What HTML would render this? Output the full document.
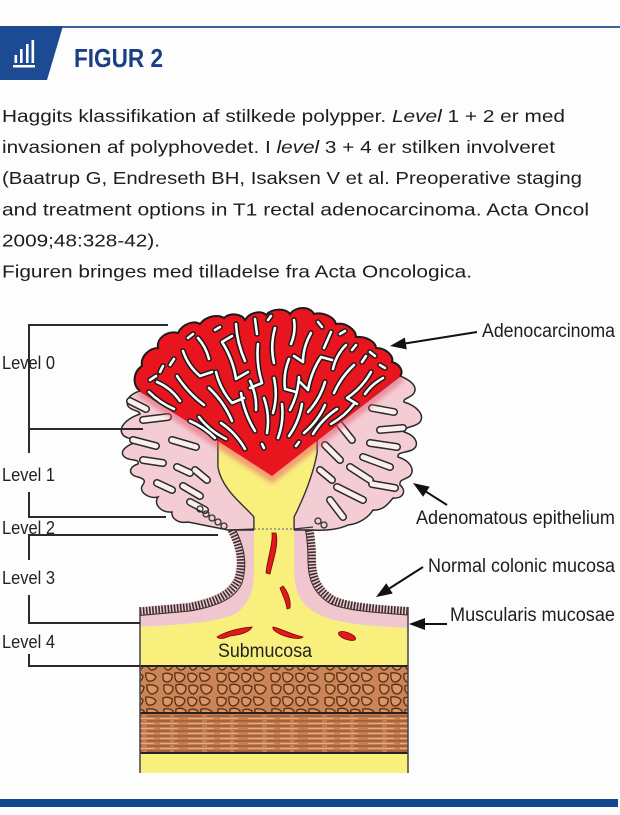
<!DOCTYPE html>
<html><head><meta charset="utf-8"><style>
html,body{margin:0;padding:0;background:#fdfdfd;}
svg{display:block;}
text{font-family:"Liberation Sans",sans-serif;}
</style></head><body>
<svg width="620" height="815" viewBox="0 0 620 815" xmlns="http://www.w3.org/2000/svg">
<defs>
<pattern id="cells" width="54" height="24" patternUnits="userSpaceOnUse">
<rect width="54" height="24" fill="#c98458"/>
<g fill="#d4966a" stroke="#5e2c0c" stroke-width="1.3">
<path d="M1,2 Q6,0 10,3 Q11,8 6,10 Q1,10 1,6 Z"/>
<path d="M13,1 Q20,0 23,4 Q22,10 16,10 Q12,8 13,1 Z"/>
<path d="M26,2 Q31,0 35,4 Q34,10 29,10 Q25,8 26,2 Z"/>
<path d="M38,1 Q46,1 48,5 Q46,10 40,9 Q37,6 38,1 Z"/>
<path d="M2,13 Q8,12 11,15 Q11,21 6,22 Q1,21 2,13 Z"/>
<path d="M14,13 Q21,11 24,15 Q24,22 18,22 Q13,20 14,13 Z"/>
<path d="M27,14 Q32,12 36,15 Q35,22 30,22 Q26,19 27,14 Z"/>
<path d="M39,13 Q47,12 50,16 Q49,22 43,22 Q38,19 39,13 Z"/>
</g>
</pattern>
<pattern id="stri" width="60" height="5" patternUnits="userSpaceOnUse">
<rect width="60" height="5" fill="#c47e52"/>
<path d="M0,1 H22 M27,1 H50 M54,1 H60" stroke="#8a4520" stroke-width="0.9"/>
<path d="M8,3.4 H34 M40,3.4 H58" stroke="#e2ac84" stroke-width="1.1"/>
</pattern>
<filter id="bl"><feGaussianBlur stdDeviation="2.5"/></filter>
<path id="ch" d="M180,401Q171,388 157,382 M226,439Q210,431 199,417 M245,449Q236,433 221,423 M204,405Q188,393 177,376 M232,421Q224,402 209,388 M200,376Q188,366 183,351 M232,403Q220,389 216,372 M209,359Q206,347 198,338 M255,431Q244,413 241,393 M236,379Q233,359 222,342 M256,410Q257,395 250,381 M245,361Q237,343 236,324 M267,433Q270,415 264,398 M262,383Q256,364 258,344 M257,334L255,319 M273,413Q278,396 274,378 M274,363Q270,346 275,328 M278,438Q284,422 282,404 M285,389Q283,374 289,359 M291,344Q296,332 294,320 M290,410Q298,395 299,377 M303,362Q303,347 311,333 M289,436Q299,422 302,404 M308,390Q311,372 321,357 M324,348L331,332 M308,412Q320,399 325,382 M333,369Q336,355 346,345 M304,433Q318,421 325,405 M334,393Q341,377 354,365 M313,434Q322,419 337,409 M347,398Q362,388 371,372 M331,424Q345,416 354,404 M365,394Q372,384 383,378 M215,438Q204,427 190,421 M174,409Q160,403 149,392 M232,403L244,398 M262,383L250,388 M285,389L296,392 M308,390L300,382 M236,379L248,372 M222,342L232,336 M321,357L332,360 M200,376L212,372 M303,362L294,356 M347,398L357,404 M170,365L174,359 M215,330L220,327 M340,334L345,331 M362,362L366,356 M160,372L163,366 M370,352L375,356 M150,380L156,376 M188,338L193,334 M268,320L271,316 M318,322L322,327 M352,350L356,345 M380,365L385,368 M264,448L262,444 M296,446L299,442"/>
<path id="sl" d="M130,401L146,409 M143,420L168,417 M133,440L156,446 M172,440L196,447 M143,460L163,463 M177,467L190,473 M157,483L172,490 M183,486L200,496 M190,502L205,510 M195,470L207,480 M372,408L394,412 M380,430L403,428 M370,443L397,447 M363,457L390,467 M350,467L370,480 M337,487L363,500 M372,484L395,488 M330,500L343,517 M340,425L352,440 M325,445L340,460 M320,470L332,480"/>
</defs>

<!-- Header -->
<line x1="0" y1="27" x2="620" y2="27" stroke="#41619e" stroke-width="2"/>
<polygon points="0,26 63,26 47,80 0,80" fill="#1c4b93"/>
<g fill="#fff">
<rect x="13" y="65" width="22" height="2.5"/>
<rect x="14.5" y="55" width="2.6" height="8"/>
<rect x="20" y="49" width="2.6" height="14"/>
<rect x="26" y="44" width="2.6" height="19"/>
<rect x="31.5" y="40" width="2.6" height="23"/>
</g>
<text x="74" y="67" font-size="26" font-weight="bold" fill="#1b3f84" textLength="89" lengthAdjust="spacingAndGlyphs">FIGUR 2</text>

<!-- Paragraph -->
<g font-size="17.5" fill="#1d1d1d">
<text x="2" y="122" textLength="563" lengthAdjust="spacingAndGlyphs">Haggits klassifikation af stilkede polypper. <tspan font-style="italic">Level</tspan> 1 + 2 er med</text>
<text x="2" y="153" textLength="553" lengthAdjust="spacingAndGlyphs">invasionen af polyphovedet. I <tspan font-style="italic">level</tspan> 3 + 4 er stilken involveret</text>
<text x="2" y="184" textLength="580" lengthAdjust="spacingAndGlyphs">(Baatrup G, Endreseth BH, Isaksen V et al. Preoperative staging</text>
<text x="2" y="215.5" textLength="587" lengthAdjust="spacingAndGlyphs">and treatment options in T1 rectal adenocarcinoma. Acta Oncol</text>
<text x="2" y="246.5" textLength="158" lengthAdjust="spacingAndGlyphs">2009;48:328-42).</text>
<text x="2" y="277.5" textLength="470" lengthAdjust="spacingAndGlyphs">Figuren bringes med tilladelse fra Acta Oncologica.</text>
</g>

<!-- Base layers -->
<rect x="140" y="666" width="268" height="47" fill="url(#cells)"/>
<rect x="140" y="713" width="268" height="40" fill="url(#stri)"/>
<rect x="140" y="753" width="268" height="20" fill="#f8ef7c"/>
<g stroke="#222" stroke-width="2">
<line x1="140" y1="666" x2="408" y2="666"/>
<line x1="140" y1="713" x2="408" y2="713"/>
<line x1="140" y1="753" x2="408" y2="753"/>
</g>

<!-- Mucosa pink stalk/base -->
<path d="M226,527 C236,545 240,562 234,578 C226,594 207,599 186,603 L140,607 L140,627 C180,625 225,622 238,612 C250,602 254,590 254,573 L254,527 Z" fill="#f0c7cf"/>
<path d="M294,527 L294,573 C295,595 302,610 330,619 C355,626 385,627 408,628 L408,607 C380,606 350,604 336,597 C320,589 316,575 316,560 C316,548 315,537 313,527 Z" fill="#f0c7cf"/>
<!-- combs -->
<g fill="none" stroke="#3a2f30">
<path d="M230,527 C240,545 244,562 238,580 C230,597 210,603 190,607 L140,611.5" stroke-width="8" stroke-dasharray="1.6 1.5"/>
<path d="M309,527 C311,537 312,548 312,560 C312,577 317,590 333,600 C348,607 380,609 408,611" stroke-width="8" stroke-dasharray="1.6 1.5"/>
<path d="M234,527 C244,545 248,563 242,583 C234,601 212,607 190,611 L140,615.5" stroke-width="1"/>
<path d="M305,527 C307,537 308,548 308,561 C308,580 314,594 331,604 C348,611 380,613 408,615" stroke-width="1"/>
</g>

<!-- Pink lobes -->
<path d="M140,391 C130,394 125,400 128,406 C131,411 139,410 140,414 C128,418 117,427 123,435 C127,440 137,438 137,442 C124,446 118,453 126,458 C132,461 140,459 138,464 C128,467 128,475 138,477 C145,479 146,481 142,486 C139,493 150,499 158,497 C153,504 161,513 172,512 C171,518 178,524 188,522 L228,530 L254,530 L254,517 C244,505 222,490 218,467 L218,440 Z" fill="#f3cdd3" stroke="#2a2a2a" stroke-width="1.5"/>
<path d="M400,376 C410,380 418,386 414,393 C411,398 403,398 404,402 C417,406 425,415 420,422 C415,428 403,426 404,432 C417,436 420,446 412,450 C405,453 397,452 398,457 C411,461 415,470 410,476 C405,480 399,479 400,485 C407,491 403,499 393,498 C389,503 383,511 373,510 C369,517 359,524 348,525 C340,529 326,531 313,530 L294,530 L294,517 C300,505 312,480 317,453 L317,440 Z" fill="#f3cdd3" stroke="#2a2a2a" stroke-width="1.5"/>
<use href="#sl" fill="none" stroke="#2a2a2a" stroke-width="8" stroke-linecap="round"/>
<use href="#sl" fill="none" stroke="#fbeef0" stroke-width="5" stroke-linecap="round"/>
<g fill="none" stroke="#333" stroke-width="1.3">
<circle cx="200" cy="509" r="3"/><circle cx="206" cy="514" r="3"/><circle cx="212" cy="518" r="3"/><circle cx="218" cy="522" r="3"/><circle cx="224" cy="526" r="3"/>
<circle cx="318" cy="521" r="3"/><circle cx="324" cy="525" r="3"/>
</g>

<!-- Yellow bulb, stalk and submucosa -->
<path d="M254,517 C244,505 222,490 218,467 L218,440 L317,440 L317,453 C312,480 300,505 294,517 L294,573 C295,595 302,610 330,619 C355,626 385,627 408,628 L408,666 L140,666 L140,627 C180,625 225,622 238,612 C250,602 254,590 254,573 Z" fill="#f8ef7c"/>
<path d="M254,530 L254,517 C244,505 222,490 218,467 L218,440 M317,440 L317,453 C312,480 300,505 294,517 L294,530" fill="none" stroke="#333" stroke-width="1.2"/>
<line x1="140" y1="666" x2="408" y2="666" stroke="#222" stroke-width="2"/>
<g stroke="#444" stroke-width="1.5">
<line x1="140" y1="607" x2="140" y2="773"/>
<line x1="408" y1="607" x2="408" y2="773"/>
</g>
<line x1="254" y1="529" x2="294" y2="529" stroke="#8a8a8a" stroke-width="1.5" stroke-dasharray="2 2"/>
<path d="M228,530 L254,529 M294,529 L313,527" stroke="#333" stroke-width="1.2" fill="none"/>

<!-- red blobs -->
<g fill="#e01a1a" stroke="#7a0000" stroke-width="0.8">
<path d="M276,533 C279,545 273,560 270,574 L266,573 C267,560 273,545 272,533 Z"/>
<path d="M283,586 C288,592 291,600 290,608 L287,609 C286,600 282,594 280,588 Z"/>
<path d="M217,637 C225,632 238,628 252,627 C250,632 240,635 230,636 C225,638 220,640 217,637 Z"/>
<path d="M273,627 C280,628 290,634 303,637 C300,640 288,638 280,634 C276,632 272,630 273,627 Z"/>
<ellipse cx="347" cy="636" rx="9" ry="3.5" transform="rotate(20 347 636)"/>
</g>

<!-- Red head -->
<path d="M140,391 L272,476 L400,376" fill="none" stroke="#e8506a" stroke-width="12" opacity="0.5" filter="url(#bl)"/>
<path d="M272,476 L140,391 C132,385 133,372 142,366 C140,356 150,348 158,348 C156,338 168,330 178,333 C182,324 194,320 200,324 C206,316 218,314 224,318 C230,312 242,314 245,320 C250,312 262,310 266,315 C272,308 286,308 290,314 C296,306 310,306 314,314 C322,312 334,316 336,324 C346,322 356,330 356,337 C366,336 376,342 376,348 C386,348 394,356 392,362 C400,364 404,372 400,376 Z" fill="#e8141e"/>
<path d="M140,391 C132,385 133,372 142,366 C140,356 150,348 158,348 C156,338 168,330 178,333 C182,324 194,320 200,324 C206,316 218,314 224,318 C230,312 242,314 245,320 C250,312 262,310 266,315 C272,308 286,308 290,314 C296,306 310,306 314,314 C322,312 334,316 336,324 C346,322 356,330 356,337 C366,336 376,342 376,348 C386,348 394,356 392,362 C400,364 404,372 400,376" fill="none" stroke="#1a1a1a" stroke-width="2"/>
<use href="#ch" fill="none" stroke="#1a1a1a" stroke-width="5.5" stroke-linecap="round"/>
<use href="#ch" fill="none" stroke="#ffffff" stroke-width="2.6" stroke-linecap="round"/>

<!-- Level brackets -->
<g stroke="#2a2a2a" stroke-width="2" fill="none">
<path d="M168,325 H29 V453"/>
<line x1="29" y1="429" x2="143" y2="429"/>
<path d="M29,492 V517 H166"/>
<path d="M218,535 H29 V560"/>
<path d="M29,595 V623 H140"/>
<path d="M29,654 V666 H140"/>
</g>
<g font-size="18" fill="#222">
<text x="2" y="369" textLength="53" lengthAdjust="spacingAndGlyphs">Level 0</text>
<text x="2" y="481" textLength="53" lengthAdjust="spacingAndGlyphs">Level 1</text>
<text x="2" y="534" textLength="53" lengthAdjust="spacingAndGlyphs">Level 2</text>
<text x="2" y="584" textLength="53" lengthAdjust="spacingAndGlyphs">Level 3</text>
<text x="2" y="648" textLength="53" lengthAdjust="spacingAndGlyphs">Level 4</text>
</g>

<!-- Submucosa label -->
<text x="218" y="657" font-size="19" fill="#222" textLength="94" lengthAdjust="spacingAndGlyphs">Submucosa</text>

<!-- Right labels and arrows -->
<g font-size="19" fill="#1d1d1d">
<text x="482" y="337" textLength="133" lengthAdjust="spacingAndGlyphs">Adenocarcinoma</text>
<text x="416" y="524" textLength="199" lengthAdjust="spacingAndGlyphs">Adenomatous epithelium</text>
<text x="428" y="572" textLength="187" lengthAdjust="spacingAndGlyphs">Normal colonic mucosa</text>
<text x="450" y="621" textLength="165" lengthAdjust="spacingAndGlyphs">Muscularis mucosae</text>
</g>
<g stroke="#111" stroke-width="2">
<line x1="477" y1="332" x2="405" y2="343.5"/>
<line x1="447" y1="505" x2="426" y2="491.7"/>
<line x1="423" y1="567" x2="389.5" y2="588.4"/>
<line x1="447" y1="624" x2="425" y2="624"/>
</g>
<g fill="#111">
<polygon points="390,346 404.8,337.6 406.8,349.4"/>
<polygon points="413,483 429.7,486.7 423.1,496.7"/>
<polygon points="376,597 386.3,583.3 392.7,593.5"/>
<polygon points="409,624 425,618 425,630"/>
</g>

<!-- Bottom bar -->
<rect x="0" y="799" width="618" height="8" fill="#14468f"/>
</svg>
</body></html>
